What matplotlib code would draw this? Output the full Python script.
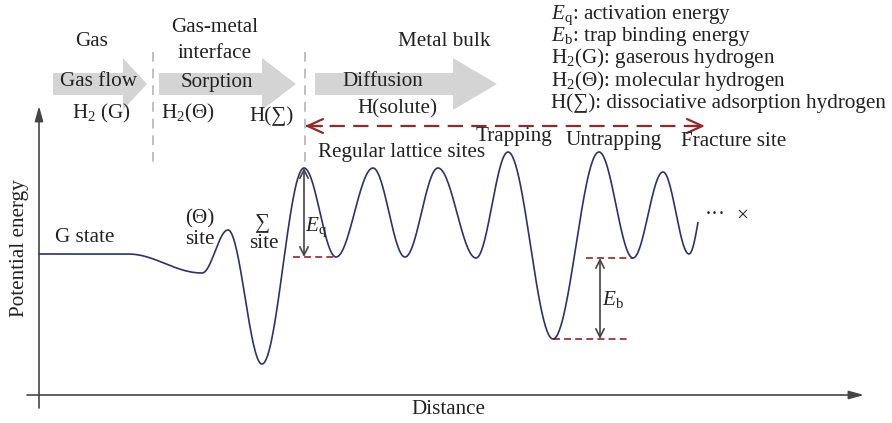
import numpy as np
import matplotlib
matplotlib.use("Agg")
import matplotlib.pyplot as plt
from matplotlib.patches import FancyArrow

plt.rcParams['font.family'] = ['Liberation Serif', 'DejaVu Serif']
plt.rcParams['mathtext.fontset'] = 'custom'
plt.rcParams['mathtext.rm'] = 'Liberation Serif'
plt.rcParams['mathtext.it'] = 'Liberation Serif:italic'
plt.rcParams['mathtext.bf'] = 'Liberation Serif:bold'
plt.rcParams['lines.scale_dashes'] = False

# ---- data (schematic, in picture units: x = distance, y = screen row; larger y = lower energy) ----
extrema_x = [39, 128, 202, 228, 262, 304, 336, 373, 405, 438, 476, 508, 553, 599, 633, 663, 689, 710]
extrema_y = [254, 254, 273, 230, 364, 168, 257, 168, 257, 168, 258, 152, 339, 152, 258, 172, 254, 172]
curve_end_x = 698

legend_lines = [r"$E_\mathrm{q}$: activation energy",
                r"$E_\mathrm{b}$: trap binding energy",
                r"H$_2$(G): gaserous hydrogen",
                r"H$_2$(Θ): molecular hydrogen",
                r"H(∑): dissociative adsorption hydrogen"]
legend_y = [15, 36, 58, 81, 103]

# block arrows: (x_start, x_tip, head_length)
block_arrows = [(53, 147, 24), (159, 296, 34), (315, 497, 44)]

fig = plt.figure(figsize=(8.92, 4.23), dpi=100)
ax = fig.add_axes([0, 0, 1, 1])
ax.set_xlim(0, 892)
ax.set_ylim(423, 0)
ax.axis('off')

FS = 15.2
navy = '#2e3070'
dred = '#8e2a2a'
grey = '#444444'

# block arrows
for xs, xt, hl in block_arrows:
    ax.add_patch(FancyArrow(xs, 84, xt - xs, 0, width=22, head_width=52, head_length=hl,
                            length_includes_head=True, color='#d4d4d4', lw=0, zorder=1))

# grey dashed separators
for xv in [153, 305]:
    ax.plot([xv, xv], [52, 168], color='#bbbbbb', lw=1.3, dashes=(7, 5), zorder=2)

# potential energy curve (half-cosine between consecutive extrema)
xs_all, ys_all = [], []
for i in range(len(extrema_x) - 1):
    x0, x1 = extrema_x[i], extrema_x[i + 1]
    y0, y1 = extrema_y[i], extrema_y[i + 1]
    t = np.linspace(0, 1, 60)
    xx = x0 + (x1 - x0) * t
    yy = y0 + (y1 - y0) * (1 - np.cos(np.pi * t)) / 2
    xs_all.append(xx); ys_all.append(yy)
xs_all = np.concatenate(xs_all); ys_all = np.concatenate(ys_all)
m = xs_all <= curve_end_x
ax.plot(xs_all[m], ys_all[m], color=navy, lw=1.2, zorder=3)

# axes arrows
ax.annotate('', xy=(39, 106), xytext=(39, 408),
            arrowprops=dict(arrowstyle='-|>,head_length=0.9,head_width=0.25', color=grey, lw=1.2,
                            shrinkA=0, shrinkB=0))
ax.annotate('', xy=(864, 395), xytext=(27, 395),
            arrowprops=dict(arrowstyle='-|>,head_length=0.9,head_width=0.25', color=grey, lw=1.2,
                            shrinkA=0, shrinkB=0))

# red dashed double arrow
ax.plot([306, 703], [126, 126], color=dred, lw=1.6, dashes=(11, 6), zorder=3)
for tip, tail in [(305, 322), (705, 688)]:
    ax.annotate('', xy=(tip, 126), xytext=(tail, 126),
                arrowprops=dict(arrowstyle='->,head_length=1.1,head_width=0.5', color=dred, lw=1.6,
                                shrinkA=0, shrinkB=0))

# energy level dashed lines
ax.plot([293, 336], [257, 257], color='#a03535', lw=1.3, dashes=(5, 3), zorder=2)
ax.plot([586, 633], [258, 258], color='#a03535', lw=1.3, dashes=(5, 3), zorder=2)
ax.plot([553, 628], [339, 339], color='#a03535', lw=1.3, dashes=(5, 3), zorder=2)

# Eq, Eb arrows
for xv, ya, yb in [(304, 168, 257), (600, 258, 339)]:
    ax.annotate('', xy=(xv, ya), xytext=(xv, yb),
                arrowprops=dict(arrowstyle='<->,head_length=0.6,head_width=0.3', color=grey, lw=1.2,
                                shrinkA=0, shrinkB=0))

def T(x, y, s, ha='center', **kw):
    ax.text(x, y, s, ha=ha, va='center', fontsize=kw.pop('fs', FS), color='#222222', **kw)

T(92, 42, "Gas")
T(215, 27, "Gas-metal")
T(215, 53, "interface")
T(444, 42, "Metal bulk")
T(98, 82, "Gas flow")
T(217, 82, "Sorption")
T(383, 82, "Diffusion")
T(102, 113, r"H$_2$ (G)")
T(188, 113, r"H$_2$(Θ)")
T(272, 116, "H(∑)")
T(397, 109, "H(solute)")
T(402, 152, "Regular lattice sites")
T(514, 136, "Trapping")
T(614, 141, "Untrapping")
T(734, 141, "Fracture site")
T(85, 237, "G state")
T(200, 219, "(Θ)")
T(200, 239, "site")
T(262, 224, "∑")
T(264, 243, "site")
T(305, 227, r"$E_\mathrm{q}$", ha='left')
T(602, 300, r"$E_\mathrm{b}$", ha='left')
T(705, 216, "···", ha='left')
T(736, 216, "×", ha='left')
T(20, 248, "Potential energy", rotation=90)
T(448, 410, "Distance")

for s, yy in zip(legend_lines, legend_y):
    T(551, yy, s, ha='left')

fig.savefig("out.png", dpi=100)
